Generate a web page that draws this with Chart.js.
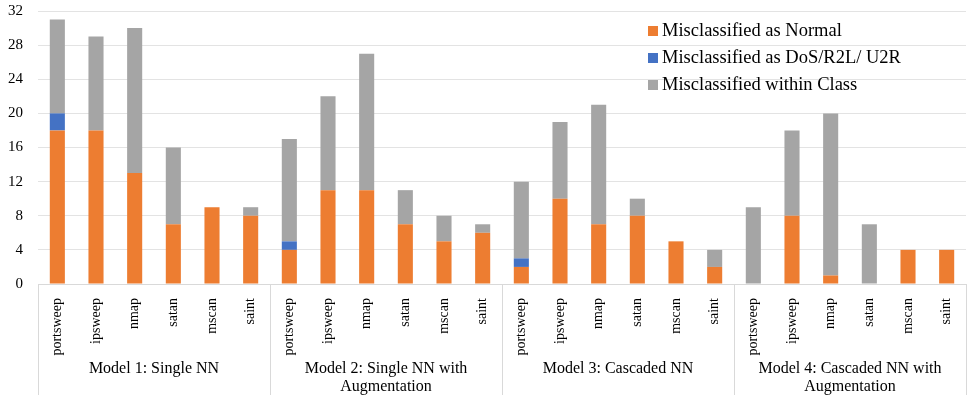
<!DOCTYPE html>
<html>
<head>
<meta charset="utf-8">
<script src="https://cdn.jsdelivr.net/npm/chart.js@4.4.1/dist/chart.umd.min.js"></script>
<style>
  html, body { margin: 0; padding: 0; background: #fff; }
  #wrap { width: 976px; height: 399px; }
</style>
</head>
<body>
<div id="wrap"><canvas id="attackChart"></canvas></div>
<script>
const attacks = ["portsweep", "ipsweep", "nmap", "satan", "mscan", "saint"];
const models = [
    ["Model 1: Single NN"],
    ["Model 2: Single NN with", "Augmentation"],
    ["Model 3: Cascaded NN"],
    ["Model 4: Cascaded NN with", "Augmentation"]
];
const asNormal = [18, 18, 13, 7, 9, 8,   4, 11, 11, 7, 5, 6,   2, 10, 7, 8, 5, 2,   0, 8, 1, 0, 4, 4];
const asOtherClass = [2, 0, 0, 0, 0, 0,   1, 0, 0, 0, 0, 0,   1, 0, 0, 0, 0, 0,   0, 0, 0, 0, 0, 0];
const withinClass = [11, 11, 17, 9, 0, 1,   12, 11, 16, 4, 3, 1,   9, 9, 14, 2, 0, 2,   9, 10, 19, 7, 0, 0];
const yMax = 32;
const yStep = 4;

const labels = models.flatMap(() => attacks);
const serif = "'Liberation Serif', 'Times New Roman', serif";

// draws the model names and the separators under the category labels
const groupPlugin = {
    id: "groupLabels",
    afterDraw(chart) {
        const { ctx, chartArea } = chart;
        const x = chart.scales.x;
        const bottom = chart.height - 4;
        const per = attacks.length;
        ctx.save();
        ctx.strokeStyle = "#d9d9d9";
        ctx.lineWidth = 1;
        const edges = [];
        for (let g = 0; g <= models.length; g++) {
            let px;
            if (g === 0) px = chartArea.left;
            else if (g === models.length) px = chartArea.right;
            else px = (x.getPixelForTick(g * per - 1) + x.getPixelForTick(g * per)) / 2;
            edges.push(px);
            ctx.beginPath();
            ctx.moveTo(Math.round(px) + 0.5, chartArea.bottom);
            ctx.lineTo(Math.round(px) + 0.5, bottom);
            ctx.stroke();
        }
        ctx.fillStyle = "#000";
        ctx.font = "16px " + serif;
        ctx.textAlign = "center";
        ctx.textBaseline = "middle";
        models.forEach((lines, g) => {
            const cx = (edges[g] + edges[g + 1]) / 2;
            lines.forEach((t, i) => ctx.fillText(t, cx, chartArea.bottom + 85 + i * 18));
        });
        ctx.restore();
    }
};

// legend inside the plot, top right
const legendPlugin = {
    id: "innerLegend",
    afterDraw(chart) {
        const { ctx } = chart;
        ctx.save();
        ctx.font = "18.5px " + serif;
        ctx.textBaseline = "middle";
        ctx.textAlign = "left";
        chart.data.datasets.forEach((ds, i) => {
            const y = 31 + i * 27;
            ctx.fillStyle = ds.backgroundColor;
            ctx.fillRect(648, y - 5, 10, 10);
            ctx.fillStyle = "#000";
            ctx.fillText(ds.label, 662, y);
        });
        ctx.restore();
    }
};

new Chart(document.getElementById("attackChart"), {
    type: "bar",
    data: {
        labels: labels,
        datasets: [
            { label: "Misclassified as Normal", data: asNormal, backgroundColor: "#ED7D31" },
            { label: "Misclassified as DoS/R2L/ U2R", data: asOtherClass, backgroundColor: "#4472C4" },
            { label: "Misclassified within Class", data: withinClass, backgroundColor: "#A5A5A5" }
        ]
    },
    options: {
        responsive: true,
        maintainAspectRatio: false,
        animation: false,
        datasets: { bar: { barPercentage: 0.39, categoryPercentage: 1 } },
        layout: { padding: { top: 11, right: 10, left: 0, bottom: 0 } },
        plugins: {
            legend: { display: false },
            tooltip: { enabled: false }
        },
        scales: {
            x: {
                stacked: true,
                grid: { display: false },
                border: { display: true, color: "#d9d9d9" },
                ticks: {
                    color: "#000",
                    font: { family: serif, size: 14 },
                    minRotation: 90,
                    maxRotation: 90,
                    autoSkip: false,
                    padding: 6
                },
                afterFit(scale) {
                    scale.height = 115;
                    scale.paddingTop = 0;
                }
            },
            y: {
                stacked: true,
                min: 0,
                max: yMax,
                ticks: {
                    stepSize: yStep,
                    color: "#000",
                    font: { family: serif, size: 15 },
                    padding: 15
                },
                grid: { color: "#e3e3e3", drawTicks: false },
                border: { display: false },
                afterFit(scale) {
                    scale.width = 38;
                    scale.paddingTop = 0;
                    scale.paddingBottom = 0;
                }
            }
        }
    },
    plugins: [groupPlugin, legendPlugin]
});
</script>
</body>
</html>
